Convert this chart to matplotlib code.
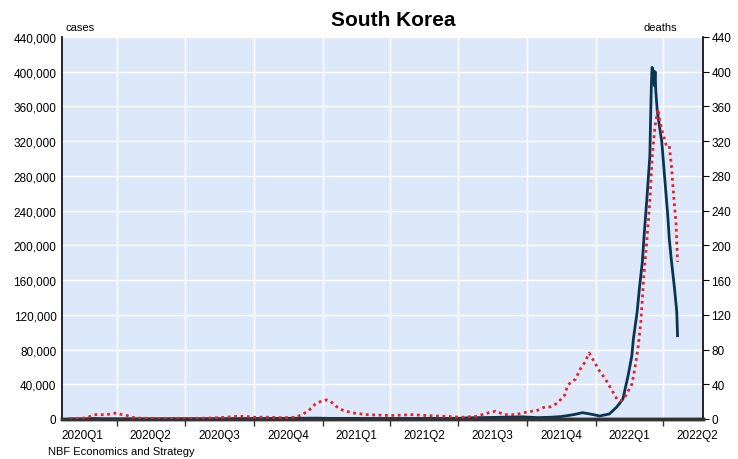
import pandas as pd
import matplotlib
matplotlib.use("Agg")
import matplotlib.pyplot as plt
from matplotlib.ticker import FuncFormatter, MultipleLocator, NullFormatter

plt.rcParams['font.family'] = ['Liberation Sans', 'DejaVu Sans']

# daily new cases, 7-day average (left axis)
case_dates = ['2020-01-29', '2020-02-20', '2020-03-01', '2020-03-15', '2020-04-15', '2020-08-28',
              '2020-12-25', '2021-01-10', '2021-04-15', '2021-07-01', '2021-07-15', '2021-08-15',
              '2021-09-25', '2021-10-15', '2021-11-01', '2021-11-15', '2021-11-25', '2021-12-05',
              '2021-12-14', '2021-12-24', '2022-01-06', '2022-01-19', '2022-01-29', '2022-02-06',
              '2022-02-13', '2022-02-18', '2022-02-20', '2022-02-25', '2022-02-28', '2022-03-04',
              '2022-03-06', '2022-03-10', '2022-03-14', '2022-03-15', '2022-03-16', '2022-03-17',
              '2022-03-19', '2022-03-20', '2022-03-21', '2022-03-22', '2022-03-24', '2022-03-30',
              '2022-04-03', '2022-04-07', '2022-04-09', '2022-04-12', '2022-04-16', '2022-04-19',
              '2022-04-20']
cases = [0, 100, 600, 200, 100, 300,
         1000, 700, 600, 700, 1400, 1800,
         2500, 1600, 2000, 2800, 4000, 5500,
         7300, 5800, 3500, 5800, 14000, 23000,
         50000, 73000, 92000, 123000, 150000, 181000,
         207000, 253000, 303000, 345000, 384000, 405000,
         400000, 384000, 400000, 377000, 354000, 319000,
         276000, 234000, 207000, 181000, 150000, 123000,
         96000]

# daily deaths, 7-day average (right axis)
death_dates = ['2020-01-29', '2020-02-12', '2020-02-26', '2020-03-04', '2020-03-11', '2020-03-18',
               '2020-03-25', '2020-04-01', '2020-04-08', '2020-04-15', '2020-04-22', '2020-05-01',
               '2020-06-01', '2020-07-01', '2020-08-01', '2020-08-25', '2020-09-08', '2020-09-20',
               '2020-10-01', '2020-10-20', '2020-11-10', '2020-11-25', '2020-12-05', '2020-12-15',
               '2020-12-22', '2020-12-29', '2021-01-06', '2021-01-12', '2021-01-20', '2021-01-28',
               '2021-02-10', '2021-03-01', '2021-04-01', '2021-05-01', '2021-05-20', '2021-06-15',
               '2021-07-05', '2021-07-25', '2021-08-10', '2021-08-20', '2021-09-01', '2021-09-15',
               '2021-10-01', '2021-10-15', '2021-10-25', '2021-11-01', '2021-11-10', '2021-11-20',
               '2021-11-24', '2021-11-28', '2021-12-05', '2021-12-10', '2021-12-17', '2021-12-23',
               '2021-12-27', '2021-12-31', '2022-01-06', '2022-01-13', '2022-01-19', '2022-01-25',
               '2022-01-29', '2022-02-04', '2022-02-10', '2022-02-18', '2022-02-22', '2022-02-26',
               '2022-03-02', '2022-03-06', '2022-03-10', '2022-03-14', '2022-03-17', '2022-03-21',
               '2022-03-25', '2022-03-27', '2022-03-31', '2022-04-05', '2022-04-09', '2022-04-12',
               '2022-04-15', '2022-04-18', '2022-04-20']
deaths = [0, 0, 3, 5, 5, 5,
          6, 7, 5, 4, 2, 1,
          0.5, 0.5, 1, 2, 3, 3,
          2, 2, 1.5, 2, 5, 11,
          17, 20, 22, 20, 14, 10,
          7, 5, 4, 5, 4, 3,
          2, 3, 7, 9, 5, 5,
          8, 10, 14, 14, 18, 27,
          38, 42, 46, 56, 65, 76,
          70, 64, 55, 47, 38, 29,
          23, 21, 27, 40, 58, 80,
          112, 165, 205, 250, 300, 338,
          357, 345, 330, 315, 315, 290,
          255, 225, 181]

quarter_labels = ['2020Q1', '2020Q2', '2020Q3', '2020Q4', '2021Q1', '2021Q2',
                  '2021Q3', '2021Q4', '2022Q1', '2022Q2']

case_dates = pd.to_datetime(case_dates)
death_dates = pd.to_datetime(death_dates)

fig = plt.figure(figsize=(7.38, 4.6), dpi=100)
ax = fig.add_axes([62 / 738, 1 - 420 / 460, (703 - 62) / 738, (420 - 38) / 460])
ax.set_facecolor('#dde9fb')

ax.plot(case_dates, cases, color='#0a3552', lw=2, zorder=3)
ax.set_ylim(0, 440000)
ax.yaxis.set_major_locator(MultipleLocator(40000))
ax.yaxis.set_major_formatter(FuncFormatter(lambda v, p: f'{int(v):,}'))
ax.tick_params(axis='y', length=0, labelsize=8.5, pad=4)

ax2 = ax.twinx()
ax2.plot(death_dates, deaths, color='#e8202a', lw=2, ls=(0, (1, 1.3)), zorder=4)
ax2.set_ylim(0, 440)
ax2.yaxis.set_major_locator(MultipleLocator(40))
ax2.tick_params(axis='y', length=4, width=0.8, labelsize=8.5, pad=2)

# quarter boundaries carry ticks and grid, labels sit at mid-quarter
q_starts = pd.date_range('2020-01-01', '2022-07-01', freq='QS')
q_mids = [s + (e - s) / 2 for s, e in zip(q_starts[:-1], q_starts[1:])]
ax.set_xticks(q_starts)
ax.xaxis.set_major_formatter(NullFormatter())
ax.set_xticks(q_mids, minor=True)
ax.set_xticklabels(quarter_labels, minor=True)
ax.tick_params(axis='x', which='major', length=5, width=1, color='#333333')
ax.tick_params(axis='x', which='minor', length=0, labelsize=8.5, pad=7)
ax.set_xlim(pd.Timestamp('2020-01-19'), pd.Timestamp('2022-05-24'))

ax.grid(True, color='white', lw=1)
ax.set_axisbelow(True)

for a in (ax, ax2):
    a.spines['top'].set_visible(False)
    a.spines['left'].set_color('black')
    a.spines['right'].set_color('black')
    a.spines['left'].set_linewidth(1.2)
    a.spines['right'].set_linewidth(1.2)
    a.spines['bottom'].set_color('#333333')
    a.spines['bottom'].set_linewidth(2.5)
ax2.spines['left'].set_visible(False)
ax.spines['right'].set_visible(False)

fig.text(393 / 738, 1 - 20 / 460, 'South Korea', ha='center', va='center',
         fontsize=15, fontweight='bold')
fig.text(66 / 738, 1 - 28 / 460, 'cases', ha='left', va='center', fontsize=8)
fig.text(677 / 738, 1 - 28 / 460, 'deaths', ha='right', va='center', fontsize=8)
fig.text(48 / 738, 1 - 447 / 460, 'NBF Economics and Strategy', ha='left', va='top', fontsize=8)

fig.savefig('out.png', dpi=100)
